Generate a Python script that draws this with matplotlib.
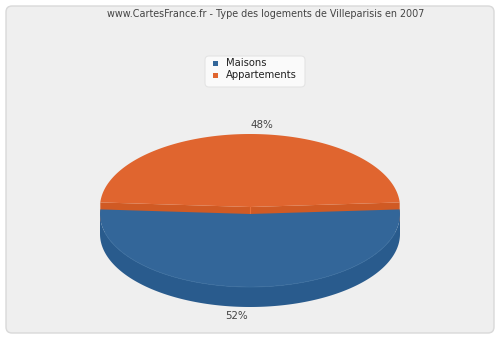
import numpy as np
import matplotlib
matplotlib.use("Agg")
import matplotlib.pyplot as plt
from matplotlib.patches import Polygon, FancyBboxPatch, Rectangle

title = "www.CartesFrance.fr - Type des logements de Villeparisis en 2007"
labels = ["Maisons", "Appartements"]
values = [52, 48]
top_colors = ["#336699", "#e0652f"]
side_colors = ["#295b8d", "#d05a24"]
pct_labels = ["52%", "48%"]

W, H = 500, 340
fig = plt.figure(figsize=(W / 100, H / 100), dpi=100)
fig.patch.set_facecolor("white")
ax = fig.add_axes([0, 0, 1, 1])
ax.set_xlim(0, W)
ax.set_ylim(H, 0)
ax.axis("off")

# background panel
ax.add_patch(FancyBboxPatch((6, 6), W - 12, H - 13, boxstyle="round,pad=0,rounding_size=6",
                            facecolor="#efefef", edgecolor="#d9d9d9", linewidth=1))

ax.text(266, 14, title, ha="center", va="center", fontsize=6.9, color="#444444",
        family="DejaVu Sans")

# legend
ax.add_patch(FancyBboxPatch((205, 56), 100, 31, boxstyle="round,pad=0,rounding_size=4",
                            facecolor="#fafafa", edgecolor="#e4e4e4", linewidth=0.8))
for i, (lab, c) in enumerate(zip(labels, top_colors)):
    y = 63 + i * 12
    ax.add_patch(Rectangle((213, y - 2.5), 5, 5, facecolor=c, edgecolor="none"))
    ax.text(226, y, lab, ha="left", va="center", fontsize=7.2, color="#222222")

# 3D pie geometry (layout)
cx, cy, rx, ry, depth = 250, 207, 150, 73, 20
drop = 7  # front slice drawn slightly lower

fracs = np.array(values, dtype=float) / sum(values)
span0 = fracs[0] * 360.0
a_start = 90 - span0 / 2
a_end = 90 + span0 / 2


def pt(a_deg, dy=0.0):
    a = np.radians(a_deg)
    return cx + rx * np.cos(a), cy + ry * np.sin(a) + dy


# orange (back) slice: radial walls then top
o_start, o_end = a_end, a_start + 360
arc = np.linspace(o_start, o_end, 200)
o_top = [(cx, cy)] + [pt(a) for a in arc]
for a in (o_start, o_end):
    p = pt(a)
    wall = [(cx, cy), p, (p[0], p[1] + depth), (cx, cy + depth)]
    ax.add_patch(Polygon(wall, closed=True, facecolor=side_colors[1], edgecolor="none", zorder=1))
ax.plot([cx, cx], [cy, cy + depth], color="#e8703a", lw=0.8, zorder=1.5)
ax.add_patch(Polygon(o_top, closed=True, facecolor=top_colors[1], edgecolor="none", zorder=2))

# blue (front) slice: side then top
arc_b = np.linspace(a_start, a_end, 200)
side_visible = np.linspace(max(a_start, 0), min(a_end, 180), 200)
side = [pt(a, drop) for a in side_visible] + [pt(a, drop + depth) for a in side_visible[::-1]]
ax.add_patch(Polygon(side, closed=True, facecolor=side_colors[0], edgecolor="none", zorder=3))
b_top = [(cx, cy + drop)] + [pt(a, drop) for a in arc_b]
ax.add_patch(Polygon(b_top, closed=True, facecolor=top_colors[0], edgecolor="none", zorder=4))
inner = np.linspace(15, 165, 200)
ax.plot([pt(a, drop)[0] for a in inner], [pt(a, drop)[1] for a in inner],
        color="#3a6d9e", lw=0.6, zorder=5)

# percentage labels
lx, ly = pt(90.0, drop + depth)
ax.text(lx - 13, ly + 9, pct_labels[0], ha="center", va="center", fontsize=7.4, color="#444444")
lx, ly = pt(270.0)
ax.text(lx + 12, ly - 9, pct_labels[1], ha="center", va="center", fontsize=7.4, color="#444444")

fig.savefig("out.png", dpi=100, facecolor=fig.get_facecolor())
